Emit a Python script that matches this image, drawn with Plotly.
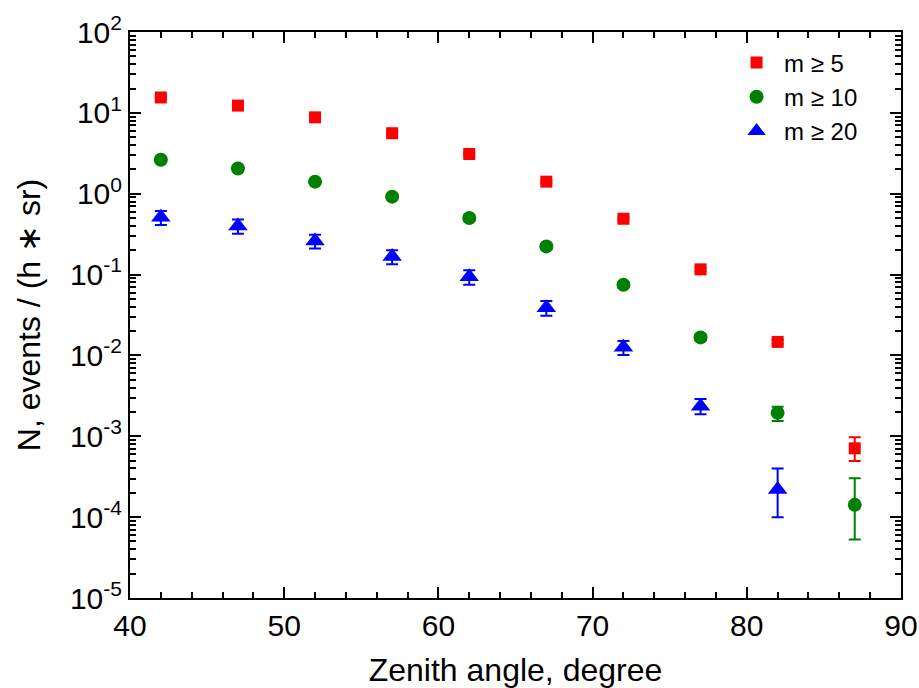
import plotly.graph_objects as go

# ---- data ----
zenith = [42, 47, 52, 57, 62, 67, 72, 77, 82, 87]
zenith_m20 = [42, 47, 52, 57, 62, 67, 72, 77, 82]

m5 = [15.5, 12.3, 8.8, 5.6, 3.1, 1.41, 0.49, 0.116, 0.0147, 7.1e-4]
m5_err_plus = [0.6, 0.5, 0.35, 0.25, 0.13, 0.06, 0.02, 0.005, 0.0008, 2.6e-4]
m5_err_minus = [0.6, 0.5, 0.35, 0.25, 0.13, 0.06, 0.02, 0.005, 0.0008, 2.15e-4]

m10 = [2.63, 2.05, 1.41, 0.92, 0.50, 0.223, 0.0746, 0.0167, 1.95e-3, 1.42e-4]
m10_err_plus = [0.2, 0.15, 0.1, 0.07, 0.04, 0.018, 0.006, 0.0014, 3.7e-4, 1.6e-4]
m10_err_minus = [0.2, 0.15, 0.1, 0.07, 0.04, 0.018, 0.006, 0.0014, 4.0e-4, 0.89e-4]

m20 = [0.51, 0.40, 0.26, 0.167, 0.094, 0.039, 0.0126, 2.35e-3, 2.2e-4]
m20_err_plus = [0.1, 0.08, 0.05, 0.033, 0.019, 0.008, 0.0025, 0.55e-3, 1.8e-4]
m20_err_minus = [0.1, 0.08, 0.05, 0.033, 0.019, 0.008, 0.0025, 0.48e-3, 1.2e-4]

x_ticks = [40, 50, 60, 70, 80, 90]
y_exponents = [-5, -4, -3, -2, -1, 0, 1, 2]
y_tick_vals = [10.0 ** e for e in y_exponents]
y_tick_text = ["10<sup>%d</sup>" % e for e in y_exponents]
y_minor_vals = [m * 10.0 ** e for e in y_exponents[:-1] for m in range(2, 10)]

FONT = "Liberation Sans, Arial, sans-serif"

fig = go.Figure()

def add(xv, yv, ep, em, name, color, symbol, size):
    fig.add_trace(go.Scatter(
        x=xv, y=yv, mode="markers", name=name,
        marker=dict(color=color, symbol=symbol, size=size, line=dict(width=0)),
        error_y=dict(type="data", symmetric=False, array=ep, arrayminus=em,
                     color=color, thickness=2, width=6),
    ))

add(zenith, m5, m5_err_plus, m5_err_minus, "m \u2265 5", "#FF0000", "square", 12)
add(zenith, m10, m10_err_plus, m10_err_minus, "m \u2265 10", "#008000", "circle", 14)
add(zenith_m20, m20, m20_err_plus, m20_err_minus, "m \u2265 20", "#0000FF", "triangle-up", 17)

axis_common = dict(
    showline=True, linecolor="black", linewidth=2, mirror="ticks",
    ticks="inside", tickcolor="black", tickwidth=2, ticklen=11,
    showgrid=False, zeroline=False, automargin=False,
    tickfont=dict(family=FONT, size=30, color="black"),
    title_font=dict(family=FONT, size=32, color="black"),
)

fig.update_layout(
    width=919, height=688,
    margin=dict(l=130, r=18, t=32, b=90),
    paper_bgcolor="white", plot_bgcolor="white",
    font=dict(family=FONT, color="black"),
    xaxis=dict(
        range=[40, 90], tickvals=x_ticks,
        minor=dict(dtick=2, tick0=40, ticks="inside", ticklen=6, tickwidth=1.5, tickcolor="black"),
        title=dict(text="Zenith angle, degree", standoff=21),
        **axis_common,
    ),
    yaxis=dict(
        type="log", range=[-5, 2], tickmode="array",
        tickvals=y_tick_vals, ticktext=y_tick_text,
        minor=dict(tickmode="array", tickvals=y_minor_vals, ticks="inside", ticklen=6,
                   tickwidth=1.5, tickcolor="black"),
        title=dict(text="N, events / (h \u2217 sr)", standoff=20),
        **axis_common,
    ),
    legend=dict(
        x=0.777, y=0.985, xanchor="left", yanchor="top",
        font=dict(family=FONT, size=24, color="black"),
        bgcolor="rgba(0,0,0,0)", borderwidth=0, tracegroupgap=0,
        itemwidth=45,
    ),
)

fig.write_html("out.html")
